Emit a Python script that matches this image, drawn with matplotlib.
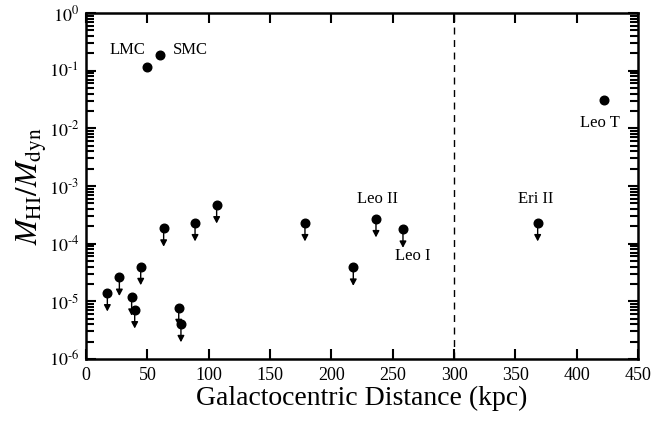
import matplotlib
matplotlib.use("Agg")
import matplotlib.pyplot as plt
from matplotlib.ticker import LogLocator, NullFormatter, FixedLocator, FuncFormatter
import numpy as np

plt.rcParams['font.family'] = ['Liberation Serif', 'DejaVu Serif']
plt.rcParams['mathtext.fontset'] = 'stix'

# detections
det_d = [49.5, 60.3, 422.3]
det_r = [0.117, 0.187, 0.031]

# upper limits
lim_d = [17.4, 27.2, 37.2, 39.7, 44.6, 63.3, 75.6, 77.4, 88.9, 106.5,
         178.5, 217.9, 236.4, 258.4, 368.2]
lim_r = [1.4e-5, 2.6e-5, 1.18e-5, 7.1e-6, 4.0e-5, 1.86e-4, 7.8e-6, 4.1e-6,
         2.3e-4, 4.7e-4, 2.3e-4, 3.9e-5, 2.7e-4, 1.78e-4, 2.3e-4]

labels = [("LMC", 34, 0.23), ("SMC", 85, 0.23), ("Leo T", 419, 0.0124),
          ("Leo II", 238, 0.0006), ("Leo I", 266, 0.000062),
          ("Eri II", 366.6, 0.0006)]

y_major = [1e-6, 1e-5, 1e-4, 1e-3, 1e-2, 1e-1, 1e0]


def ylab(v, pos):
    e = int(round(np.log10(v)))
    if e < 0:
        return r'$10^{\text{-%d}}$' % (-e)
    return r'$10^{%d}$' % e


fig = plt.figure(figsize=(6.53, 4.22), dpi=100)
ax = fig.add_axes([86 / 653, 1 - 359 / 422, 552 / 653, 346 / 422])

for d, r in zip(lim_d, lim_r):
    ax.annotate('', xy=(d, r / 2.1), xytext=(d, r),
                arrowprops=dict(arrowstyle='-|>,head_width=0.2,head_length=0.38',
                                color='black', lw=1.0, shrinkA=0, shrinkB=0))
ax.plot(det_d, det_r, 'o', color='black', ms=6.2, zorder=3)
ax.plot(lim_d, lim_r, 'o', color='black', ms=6.2, zorder=3)

for txt, x, y in labels:
    ax.text(x, y, txt, fontsize=12, ha='center', va='center')

ax.axvline(300, color='black', ls=(0, (5, 4)), lw=1.0)

ax.set_yscale('log')
ax.set_xlim(0, 450)
ax.set_ylim(1e-6, 1)
ax.xaxis.set_major_locator(FixedLocator(range(0, 451, 50)))
ax.yaxis.set_major_locator(FixedLocator(y_major))
ax.yaxis.set_major_formatter(FuncFormatter(ylab))
ax.yaxis.set_minor_locator(LogLocator(base=10, subs=range(2, 10), numticks=10))
ax.yaxis.set_minor_formatter(NullFormatter())

ax.tick_params(axis='both', which='both', direction='in', top=True, right=True,
               labelsize=13, width=1.5)
ax.tick_params(axis='x', which='major', length=7, pad=6)
ax.tick_params(axis='y', which='major', length=7, pad=5)
ax.tick_params(axis='y', which='minor', length=6, width=1.5)
for s in ax.spines.values():
    s.set_linewidth(1.8)

ax.set_xlabel('Galactocentric Distance (kpc)', fontsize=20, labelpad=1)
ax.set_ylabel(r'$M_{\rm HI}/M_{\rm dyn}$', fontsize=22, labelpad=0)

fig.savefig('out.png', dpi=100)
